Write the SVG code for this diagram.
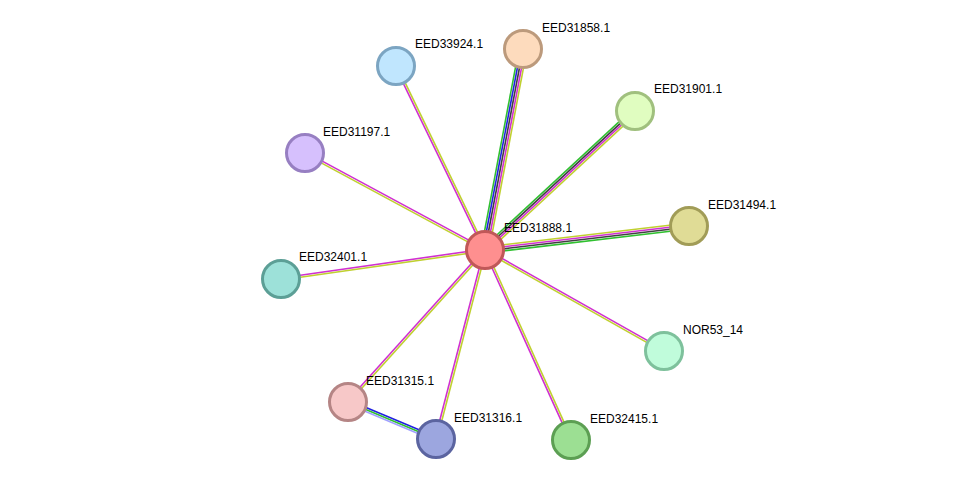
<svg xmlns="http://www.w3.org/2000/svg" width="975" height="486" viewBox="0 0 975 486">
<style>
line{stroke-width:1.6}
.m{stroke:#d030d0}.y{stroke:#c0d030}.g{stroke:#30c030}.b{stroke:#2020e0}.k{stroke:#404040}.l{stroke:#a0a0ff}
circle{stroke-width:3}
text{font-family:"Liberation Sans",Arial,sans-serif;font-size:12px;fill:#000}
</style>
<rect width="975" height="486" fill="#fff"/>
<g id="edges">
<g><line class="m" x1="484.1" y1="250.4" x2="395.1" y2="66.4"/><line class="y" x1="485.9" y1="249.6" x2="396.9" y2="65.6"/></g>
<g><line class="g" x1="481.1" y1="249.3" x2="519.1" y2="48.3"/><line class="b" x1="483" y1="249.6" x2="521" y2="48.6"/><line class="k" x1="485" y1="250" x2="523" y2="49"/><line class="m" x1="487" y1="250.4" x2="525" y2="49.4"/><line class="y" x1="488.9" y1="250.7" x2="526.9" y2="49.7"/></g>
<g><line class="g" x1="483" y1="247.8" x2="633" y2="108.8"/><line class="k" x1="484.3" y1="249.3" x2="634.3" y2="110.3"/><line class="m" x1="485.7" y1="250.7" x2="635.7" y2="111.7"/><line class="y" x1="487" y1="252.2" x2="637" y2="113.2"/></g>
<g><line class="y" x1="484.6" y1="247" x2="688.6" y2="223"/><line class="m" x1="484.9" y1="249" x2="688.9" y2="225"/><line class="k" x1="485.1" y1="251" x2="689.1" y2="227"/><line class="g" x1="485.4" y1="253" x2="689.4" y2="229"/></g>
<g><line class="m" x1="485.5" y1="249.1" x2="305.5" y2="152.1"/><line class="y" x1="484.5" y1="250.9" x2="304.5" y2="153.9"/></g>
<g><line class="m" x1="485.1" y1="249" x2="281.1" y2="278"/><line class="y" x1="484.9" y1="251" x2="280.9" y2="280"/></g>
<g><line class="m" x1="485.5" y1="249.1" x2="664.5" y2="350.1"/><line class="y" x1="484.5" y1="250.9" x2="663.5" y2="351.9"/></g>
<g><line class="m" x1="484.3" y1="249.3" x2="347.3" y2="401.3"/><line class="y" x1="485.7" y1="250.7" x2="348.7" y2="402.7"/></g>
<g><line class="m" x1="484" y1="249.8" x2="435" y2="438.8"/><line class="y" x1="486" y1="250.2" x2="437" y2="439.2"/></g>
<g><line class="m" x1="484.1" y1="250.4" x2="570.1" y2="440.4"/><line class="y" x1="485.9" y1="249.6" x2="571.9" y2="439.6"/></g>
<g><line class="b" x1="348.8" y1="400.2" x2="436.8" y2="437.2"/><line class="g" x1="348" y1="402" x2="436" y2="439"/><line class="l" x1="347.2" y1="403.8" x2="435.2" y2="440.8"/></g>
</g>
<g id="EED33924.1"><circle cx="396" cy="66" r="18.5" fill="#c0e6fe" stroke="#7ca5c2"/><text x="415" y="48">EED33924.1</text></g>
<g id="EED31858.1"><circle cx="523" cy="49" r="18.5" fill="#fddbbd" stroke="#bc9a7c"/><text x="542" y="32">EED31858.1</text></g>
<g id="EED31901.1"><circle cx="635" cy="111" r="18.5" fill="#e0fdc0" stroke="#a0c07e"/><text x="654" y="93">EED31901.1</text></g>
<g id="EED31197.1"><circle cx="305" cy="153" r="18.5" fill="#d6c0fd" stroke="#977fc2"/><text x="323" y="136">EED31197.1</text></g>
<g id="EED31494.1"><circle cx="689" cy="226" r="18.5" fill="#e0dc96" stroke="#a19c57"/><text x="708" y="209">EED31494.1</text></g>
<g id="EED31888.1"><circle cx="485" cy="250" r="18.5" fill="#fe8f8f" stroke="#c05858"/><text x="504" y="232">EED31888.1</text></g>
<g id="EED32401.1"><circle cx="281" cy="279" r="18.5" fill="#9de1d9" stroke="#5c9f96"/><text x="299" y="261">EED32401.1</text></g>
<g id="NOR53_14"><circle cx="664" cy="351" r="18.5" fill="#c0fcdb" stroke="#7ec19c"/><text x="683" y="334">NOR53_14</text></g>
<g id="EED31315.1"><circle cx="348" cy="402" r="18.5" fill="#f7c8c8" stroke="#b58585"/><text x="366" y="385">EED31315.1</text></g>
<g id="EED31316.1"><circle cx="436" cy="439" r="18.5" fill="#9ca6df" stroke="#5b64a0"/><text x="454" y="422">EED31316.1</text></g>
<g id="EED32415.1"><circle cx="571" cy="440" r="18.5" fill="#9cdf93" stroke="#5c9f53"/><text x="590" y="423">EED32415.1</text></g>
</svg>
